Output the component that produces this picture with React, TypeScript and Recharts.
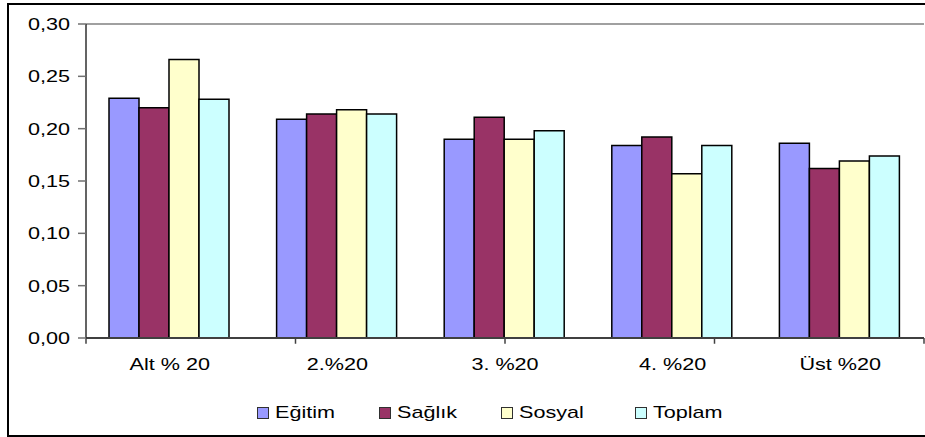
import { BarChart, Bar, XAxis, YAxis, ReferenceLine } from "recharts"

// quintile groups and spending shares
const categories = ["Alt % 20", "2.%20", "3. %20", "4. %20", "Üst %20"]
const egitim = [0.229, 0.209, 0.19, 0.184, 0.186]
const saglik = [0.22, 0.214, 0.211, 0.192, 0.162]
const sosyal = [0.266, 0.218, 0.19, 0.157, 0.169]
const toplam = [0.228, 0.214, 0.198, 0.184, 0.174]
const yTicks = [0, 0.05, 0.1, 0.15, 0.2, 0.25, 0.3]
const edgeTicks = [0, 1, 2, 3, 4, 5]

const series = [
  { key: "egitim", name: "Eğitim", color: "#9999FF" },
  { key: "saglik", name: "Sağlık", color: "#993366" },
  { key: "sosyal", name: "Sosyal", color: "#FFFFCC" },
  { key: "toplam", name: "Toplam", color: "#CCFFFF" },
]

const data = categories.map((name, i) => ({
  name,
  egitim: egitim[i],
  saglik: saglik[i],
  sosyal: sosyal[i],
  toplam: toplam[i],
}))

const FONT = "'Liberation Sans', Arial, sans-serif"
const STRETCH = 1.27
const legendLeft = [257, 379, 501, 635]

const fmt = (v: number) => v.toFixed(2).replace(".", ",")

function YTick({ y, payload }: any) {
  return (
    <text
      transform={`translate(70,${y}) scale(${STRETCH},1)`}
      textAnchor="end"
      dominantBaseline="central"
      fontSize={17}
      fontFamily={FONT}
      fill="#000"
    >
      {fmt(payload.value)}
    </text>
  )
}

function XTick({ x, payload }: any) {
  return (
    <text
      transform={`translate(${x},370) scale(${STRETCH},1)`}
      textAnchor="middle"
      fontSize={17}
      fontFamily={FONT}
      fill="#000"
    >
      {payload.value}
    </text>
  )
}

export default function App() {
  return (
    <div
      style={{
        position: "absolute",
        left: 0,
        top: 0,
        width: 925,
        height: 437,
        overflow: "hidden",
        background: "#fff",
      }}
    >
      <div
        style={{
          position: "absolute",
          left: 7,
          top: 3,
          width: 940,
          height: 430,
          border: "2px solid #000",
        }}
      />
      <div style={{ position: "absolute", left: 0, top: 0 }}>
        <BarChart
          width={925}
          height={437}
          data={data}
          margin={{ top: 24, right: 1, left: 0, bottom: 69 }}
          barCategoryGap={23}
          barGap={0}
        >
          <ReferenceLine y={0.3} stroke="#a0a0a0" strokeWidth={2} />
          <XAxis
            dataKey="name"
            height={30}
            tickLine={false}
            axisLine={{ stroke: "#404040", strokeWidth: 2 }}
            tick={<XTick />}
            interval={0}
          />
          <XAxis
            xAxisId="edge"
            type="number"
            domain={[0, 5]}
            allowDataOverflow
            hide
          />
          <YAxis
            width={86}
            domain={[0, 0.3]}
            ticks={yTicks}
            interval={0}
            tickSize={8}
            tickLine={{ stroke: "#707070", strokeWidth: 1.5 }}
            axisLine={{ stroke: "#303030", strokeWidth: 1.5 }}
            tick={<YTick />}
          />
          <ReferenceLine xAxisId="edge" x={5} stroke="#d8d8d8" strokeWidth={1} />
          {edgeTicks.map((t) => (
            <ReferenceLine
              key={t}
              xAxisId="edge"
              ifOverflow="visible"
              segment={[
                { x: t, y: 0 },
                { x: t, y: -0.0055 },
              ]}
              stroke="#404040"
              strokeWidth={1.5}
            />
          ))}
          {series.map((s) => (
            <Bar
              key={s.key}
              dataKey={s.key}
              name={s.name}
              fill={s.color}
              stroke="#000"
              strokeWidth={1.5}
              isAnimationActive={false}
            />
          ))}
        </BarChart>
      </div>
      {series.map((s, i) => (
        <div
          key={s.key}
          style={{
            position: "absolute",
            left: legendLeft[i],
            top: 402,
            height: 22,
            display: "flex",
            alignItems: "center",
          }}
        >
          <div
            style={{
              width: 10,
              height: 10,
              background: s.color,
              border: "1.5px solid #303030",
            }}
          />
          <span
            style={{
              marginLeft: 6,
              fontFamily: FONT,
              fontSize: 17,
              color: "#000",
              display: "inline-block",
              transform: `scaleX(${STRETCH})`,
              transformOrigin: "left center",
              whiteSpace: "nowrap",
            }}
          >
            {s.name}
          </span>
        </div>
      ))}
    </div>
  )
}
